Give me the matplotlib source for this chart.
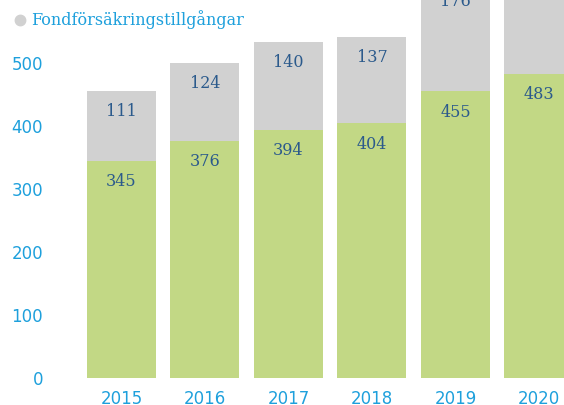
import numpy as np
import matplotlib.pyplot as plt
from matplotlib.lines import Line2D

years = ['2015', '2016', '2017', '2018', '2019', '2020']
traditional = [345, 376, 394, 404, 455, 483]
unit_linked = [111, 124, 140, 137, 176, 190]

green = '#c2d885'
grey = '#d1d1d1'
label_col = '#2b5a8c'
tick_col = '#1ea0dc'

fig = plt.figure(figsize=(5.64, 4.05), dpi=100)
ax = fig.add_axes([0, 27 / 405, 1, 378 / 405])

x = np.arange(len(years))
w = 0.826
ax.bar(x, traditional, width=w, color=green)
ax.bar(x, unit_linked, width=w, bottom=traditional, color=grey)

# labels sit a bit below the top of each segment
for i in range(len(years)):
    t = traditional[i]
    u = unit_linked[i]
    ax.text(x[i], t - 33, str(t), ha='center', va='center',
            fontsize=11.5, color=label_col, family='DejaVu Serif')
    ax.text(x[i], t + u - 33, str(u), ha='center', va='center',
            fontsize=11.5, color=label_col, family='DejaVu Serif')

ax.set_xlim(-1.455, 5.30)
ax.set_ylim(0, 600)
ax.set_xticks(x)
ax.set_xticklabels(years)
ax.set_yticks([0, 100, 200, 300, 400, 500])
ax.tick_params(axis='x', length=0, pad=8.5, labelsize=12, labelcolor=tick_col)
ax.tick_params(axis='y', length=0, pad=-31, labelsize=12, labelcolor=tick_col)
for lab in ax.get_yticklabels():
    lab.set_horizontalalignment('right')
for s in ax.spines.values():
    s.set_visible(False)
ax.patch.set_alpha(0)

handle = Line2D([], [], marker='o', color=grey, linestyle='', markersize=7.5)
fig.legend([handle], ['Fondförsäkringstillgångar'], loc='center left',
           bbox_to_anchor=(0.008, 1 - 20 / 405), frameon=False,
           handletextpad=0.05, handlelength=1.2, borderaxespad=0,
           prop={'family': 'DejaVu Serif', 'size': 11.5}, labelcolor=tick_col)

fig.savefig('out.png', dpi=100)
